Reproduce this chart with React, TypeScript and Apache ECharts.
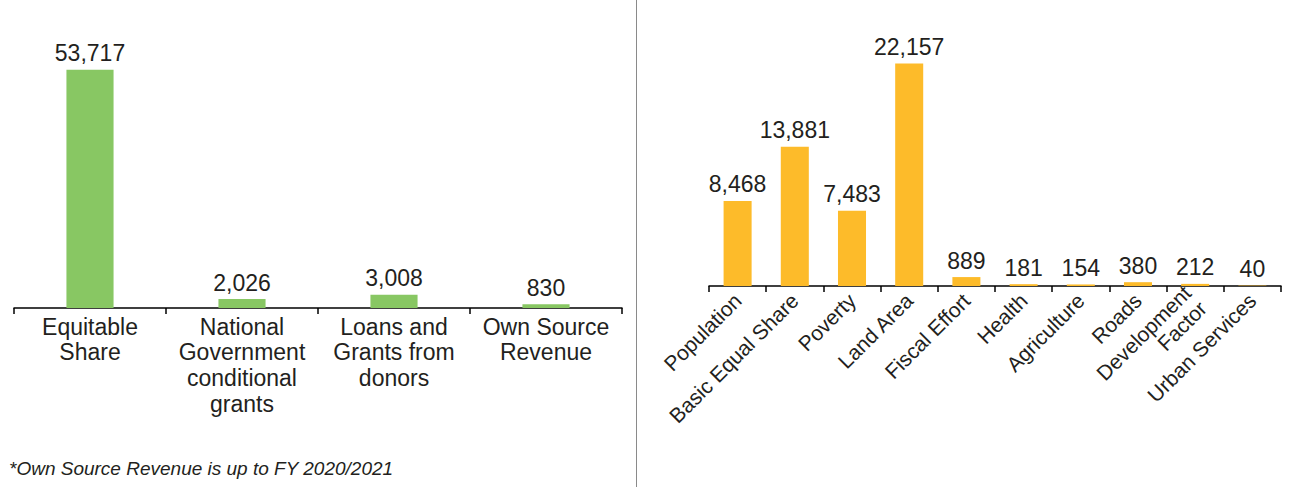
import React, { useEffect, useRef } from "react";
import * as echarts from "echarts";

const sourceCategories = [
  "Equitable\nShare",
  "National\nGovernment\nconditional\ngrants",
  "Loans and\nGrants from\ndonors",
  "Own Source\nRevenue",
];
const sourceValues = [53717, 2026, 3008, 830];

const factorCategories = [
  "Population",
  "Basic Equal Share",
  "Poverty",
  "Land Area",
  "Fiscal Effort",
  "Health",
  "Agriculture",
  "Roads",
  "Development\nFactor",
  "Urban Services",
];
const factorValues = [8468, 13881, 7483, 22157, 889, 181, 154, 380, 212, 40];

const footnote = "*Own Source Revenue is up to FY 2020/2021";

const FONT = "'Liberation Sans', Arial, Helvetica, sans-serif";
const TEXT = "#231f20";

export default function App() {
  const ref = useRef<HTMLDivElement>(null);

  useEffect(() => {
    if (!ref.current) return;
    const chart = echarts.init(ref.current, undefined, { renderer: "svg" });
    const fmt = (p: any) => Number(p.value).toLocaleString("en-US");
    chart.setOption({
      animation: false,
      backgroundColor: "#ffffff",
      textStyle: { fontFamily: FONT },
      grid: [
        { left: 14, width: 608, top: 42, height: 266 },
        { left: 709, width: 572, top: 35, height: 251 },
      ],
      xAxis: [
        {
          type: "category",
          gridIndex: 0,
          data: sourceCategories,
          axisLine: { show: true, lineStyle: { color: "#000", width: 1.5 } },
          axisTick: {
            show: true,
            alignWithLabel: false,
            length: 6,
            lineStyle: { color: "#000", width: 1.5 },
          },
          axisLabel: {
            color: TEXT,
            fontFamily: FONT,
            fontSize: 23,
            lineHeight: 25.6,
            margin: 6,
            interval: 0,
          },
        },
        {
          type: "category",
          gridIndex: 1,
          data: factorCategories,
          axisLine: { show: true, lineStyle: { color: "#000", width: 1.5 } },
          axisTick: {
            show: true,
            alignWithLabel: false,
            length: 6,
            lineStyle: { color: "#000", width: 1.5 },
          },
          axisLabel: {
            color: TEXT,
            fontFamily: FONT,
            fontSize: 21,
            lineHeight: 22,
            rotate: 45,
            margin: 11,
            interval: 0,
          },
        },
      ],
      yAxis: [
        { type: "value", gridIndex: 0, min: 0, max: 60000, show: false },
        { type: "value", gridIndex: 1, min: 0, max: 25000, show: false },
      ],
      series: [
        {
          type: "bar",
          xAxisIndex: 0,
          yAxisIndex: 0,
          data: sourceValues,
          barWidth: "31%",
          itemStyle: { color: "#88c763" },
          label: {
            show: true,
            position: "top",
            distance: 5,
            color: TEXT,
            fontFamily: FONT,
            fontSize: 23,
            formatter: fmt,
          },
        },
        {
          type: "bar",
          xAxisIndex: 1,
          yAxisIndex: 1,
          data: factorValues,
          barWidth: "49%",
          itemStyle: { color: "#fdbb2a" },
          label: {
            show: true,
            position: "top",
            distance: 5,
            color: TEXT,
            fontFamily: FONT,
            fontSize: 23,
            formatter: fmt,
          },
        },
      ],
      graphic: [
        {
          type: "line",
          shape: { x1: 636.5, y1: 0, x2: 636.5, y2: 487 },
          style: { stroke: "#8a8a8a", lineWidth: 1 },
        },
        {
          type: "text",
          left: 9,
          top: 459,
          style: {
            text: footnote,
            fill: TEXT,
            font: `italic 19px ${FONT}`,
          },
        },
      ],
    });
    return () => chart.dispose();
  }, []);

  return (
    <div
      ref={ref}
      style={{ position: "fixed", left: 0, top: 0, width: 1299, height: 487 }}
    />
  );
}
